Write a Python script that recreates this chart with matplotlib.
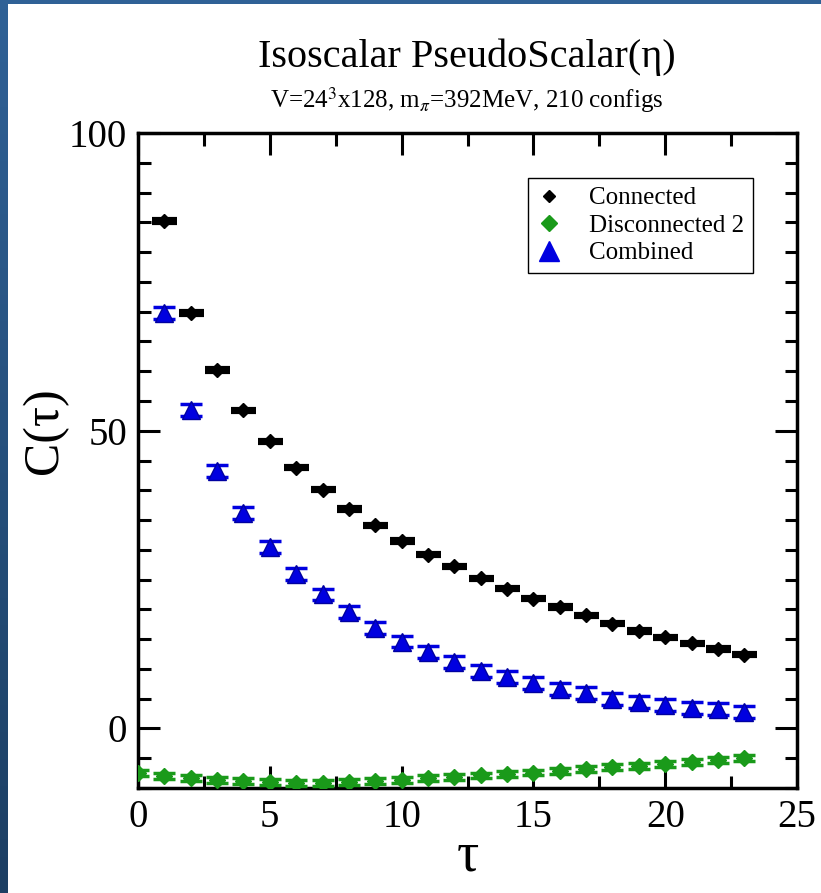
import numpy as np
import matplotlib
matplotlib.use("Agg")
import matplotlib.pyplot as plt
from matplotlib.lines import Line2D
from matplotlib.colors import LinearSegmentedColormap

plt.rcParams['font.family'] = ['Liberation Serif', 'DejaVu Serif']
plt.rcParams['mathtext.fontset'] = 'stix'

# data
tau_conn = list(range(1, 24))
connected = [85.2, 69.8, 60.2, 53.4, 48.2, 43.8, 40.1, 36.9, 34.1, 31.5, 29.2, 27.2,
             25.2, 23.5, 21.8, 20.4, 19.0, 17.6, 16.4, 15.3, 14.3, 13.3, 12.4]
err_conn = 0.3

tau_comb = list(range(1, 24))
combined = [69.8, 53.5, 43.3, 36.2, 30.5, 26.0, 22.5, 19.5, 16.9, 14.6, 12.8, 11.1,
            9.6, 8.6, 7.7, 6.6, 5.9, 5.0, 4.5, 4.0, 3.5, 3.2, 2.7]
err_comb = 1.0

tau_disc = list(range(0, 24))
disconnected = [-7.5, -8.0, -8.4, -8.7, -8.9, -9.0, -9.1, -9.1, -9.0, -8.8, -8.7, -8.4,
                -8.2, -7.9, -7.6, -7.4, -7.1, -6.8, -6.5, -6.3, -6.0, -5.6, -5.3, -5.0]
err_disc = 0.5

fig = plt.figure(figsize=(8.21, 8.93), dpi=100)

# slide background strips (left and top)
cmap = LinearSegmentedColormap.from_list('slide', ['#2f6196', '#1d3f63'])
bl = fig.add_axes([0, 0, 7 / 821, 1])
bl.imshow(np.linspace(0, 1, 100).reshape(-1, 1), aspect='auto', cmap=cmap)
bl.axis('off')
bt = fig.add_axes([0, 1 - 4 / 893, 1, 4 / 893])
bt.set_facecolor('#2f6196')
bt.set_xticks([])
bt.set_yticks([])
for s in bt.spines.values():
    s.set_visible(False)

ax = fig.add_axes([138 / 821, 1 - 788 / 893, 659 / 821, 655 / 893])

ax.errorbar(tau_conn, connected, yerr=err_conn, fmt='D', color='black', markersize=7,
            capsize=9, capthick=3, elinewidth=1.5, zorder=3)
ax.errorbar(tau_disc, disconnected, yerr=err_disc, fmt='D', color='#1a9a1a', markersize=8,
            capsize=8, capthick=2.5, elinewidth=1.5, zorder=3)
ax.errorbar(tau_comb, combined, yerr=err_comb, fmt='^', color='#0000e0', markersize=13,
            markeredgecolor='#0000a0', capsize=8, capthick=2.5, elinewidth=1.5, zorder=3)

ax.set_xlim(0, 25)
ax.set_ylim(-10, 100)
ax.set_xticks([0, 5, 10, 15, 20, 25])
ax.set_xticks(np.arange(2.5, 25, 5), minor=True)
ax.set_yticks([0, 50, 100])
ax.set_yticks(np.arange(-10, 100, 5), minor=True)
ax.tick_params(which='both', direction='in', top=True, right=True, width=2.2)
ax.tick_params(which='major', length=16, labelsize=28, pad=8)
ax.tick_params(which='minor', length=9)
for s in ax.spines.values():
    s.set_linewidth(2.5)

ax.set_xlabel('τ', fontsize=40, labelpad=-4)
ax.set_ylabel('C(τ)', fontsize=36, va='center')
ax.yaxis.set_label_coords(-0.142, 0.545)

fig.text(467 / 821, 1 - 57 / 893, 'Isoscalar PseudoScalar(η)', ha='center', va='center', fontsize=29)
fig.text(467 / 821, 1 - 100 / 893, r'V=24$^3$x128, m$_\pi$=392MeV, 210 configs', ha='center', va='center', fontsize=18)

handles = [
    Line2D([], [], marker='D', color='black', linestyle='none', markersize=6),
    Line2D([], [], marker='D', color='#1a9a1a', linestyle='none', markersize=8),
    Line2D([], [], marker='^', color='#0000e0', linestyle='none', markersize=14),
]
leg = ax.legend(handles, ['Connected', 'Disconnected 2', 'Combined'], loc='upper left',
                bbox_to_anchor=((528 - 138) / 659, (788 - 178) / 655), borderaxespad=0,
                fontsize=18, fancybox=False, edgecolor='black', framealpha=1,
                handletextpad=1.1, labelspacing=0.2, borderpad=0.35, handlelength=1.0)
leg.get_frame().set_linewidth(1.0)

fig.savefig('out.png', dpi=100)
